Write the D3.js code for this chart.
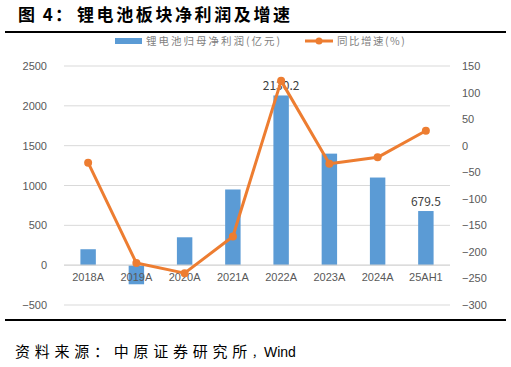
<!DOCTYPE html>
<html><head><meta charset="utf-8">
<script src="https://cdn.jsdelivr.net/npm/d3@7/dist/d3.min.js"></script>
<style>body{margin:0;background:#fff;}svg{display:block;}</style>
</head><body>
<svg id="c" width="511" height="367"></svg>
<script>
const categories = ["2018A","2019A","2020A","2021A","2022A","2023A","2024A","25AH1"];
const profit = [200, -240, 350, 950, 2130.2, 1400, 1100, 679.5];
const growth = [-32, -221, -240, -171, 122, -34, -22, 28];
const leftTicks = [-500, 0, 500, 1000, 1500, 2000, 2500];
const rightTicks = [-300, -250, -200, -150, -100, -50, 0, 50, 100, 150];
const labeled = {"2022A": "2130.2", "25AH1": "679.5"};

const svg = d3.select("#c");
const cjk = "'Noto Sans CJK SC', sans-serif";
const L = 64, R = 450, T = 66, B = 305;

const x = d3.scaleBand().domain(categories).range([L, R]).paddingInner(0.68).paddingOuter(0.34);
const xc = d3.scaleBand().domain(categories).range([L, R]);
const yL = d3.scaleLinear().domain([-500, 2500]).range([B, T]);
const yR = d3.scaleLinear().domain([-300, 150]).range([B, T]);

// title
const title = svg.append("text").attr("x", 18).attr("y", 21).attr("font-family", cjk).attr("font-weight", "bold")
  .attr("font-size", 17).attr("fill", "#000");
title.append("tspan").attr("letter-spacing", 2).text("图 4：");
title.append("tspan").attr("x", 77).attr("letter-spacing", 2.6).text("锂电池板块净利润及增速");
svg.append("line").attr("x1", 5).attr("x2", 506).attr("y1", 32).attr("y2", 32).attr("stroke", "#000").attr("stroke-width", 2);
svg.append("line").attr("x1", 5).attr("x2", 506).attr("y1", 320).attr("y2", 320).attr("stroke", "#000").attr("stroke-width", 2);

// legend
svg.append("rect").attr("x", 115).attr("y", 38).attr("width", 27).attr("height", 6).attr("fill", "#5B9BD5");
svg.append("text").attr("x", 146).attr("y", 45).attr("font-family", cjk).attr("font-size", 10.5).attr("letter-spacing", 2)
  .attr("fill", "#7f7f7f").text("锂电池归母净利润(亿元)");
svg.append("line").attr("x1", 305).attr("x2", 333).attr("y1", 41).attr("y2", 41).attr("stroke", "#ED7D31").attr("stroke-width", 3);
svg.append("circle").attr("cx", 319).attr("cy", 41).attr("r", 3.5).attr("fill", "#ED7D31");
svg.append("text").attr("x", 337).attr("y", 45).attr("font-family", cjk).attr("font-size", 10.5).attr("letter-spacing", 1.5)
  .attr("fill", "#7f7f7f").text("同比增速(%)");

// gridlines
svg.append("g").selectAll("line").data(leftTicks.filter(d => d !== 0)).join("line")
  .attr("x1", L).attr("x2", R).attr("y1", d => yL(d)).attr("y2", d => yL(d))
  .attr("stroke", "#d9d9d9").attr("stroke-width", 1);

// axes labels
const gl = svg.append("g").attr("transform", `translate(${L},0)`)
  .call(d3.axisLeft(yL).tickValues(leftTicks).tickSize(0).tickPadding(17).tickFormat(d => d < 0 ? "−" + Math.abs(d) : d));
gl.select(".domain").remove();
gl.selectAll("text").attr("font-family", "'Liberation Sans', Arial, sans-serif").attr("font-size", 11).attr("fill", "#595959");

const gr = svg.append("g").attr("transform", `translate(${R},0)`)
  .call(d3.axisRight(yR).tickValues(rightTicks).tickSize(0).tickPadding(12).tickFormat(d => d < 0 ? "−" + Math.abs(d) : d));
gr.select(".domain").remove();
gr.selectAll("text").attr("font-family", "'Liberation Sans', Arial, sans-serif").attr("font-size", 11).attr("fill", "#595959");

// bars
svg.append("g").selectAll("rect").data(categories).join("rect")
  .attr("x", d => x(d)).attr("width", x.bandwidth())
  .attr("y", (d, i) => Math.min(yL(profit[i]), yL(0)))
  .attr("height", (d, i) => Math.abs(yL(profit[i]) - yL(0)))
  .attr("fill", "#5B9BD5");

// zero axis line
svg.append("line").attr("x1", L).attr("x2", R).attr("y1", yL(0)).attr("y2", yL(0)).attr("stroke", "#d0d0d0").attr("stroke-width", 1.2);

// x labels
const gx = svg.append("g").attr("transform", `translate(0,${yL(0)})`)
  .call(d3.axisBottom(xc).tickSize(0).tickPadding(8));
gx.select(".domain").remove();
gx.selectAll("text").attr("font-family", "'Liberation Sans', Arial, sans-serif").attr("font-size", 11).attr("fill", "#595959");

// bar labels
svg.append("g").selectAll("text").data(categories.filter(c => labeled[c])).join("text")
  .attr("x", d => xc(d) + xc.bandwidth() / 2)
  .attr("y", d => yL(profit[categories.indexOf(d)]) - 5)
  .attr("text-anchor", "middle").attr("font-family", cjk).attr("font-size", 12).attr("fill", "#404040")
  .text(d => labeled[d]);

// line
const line = d3.line().x((d, i) => xc(categories[i]) + xc.bandwidth() / 2).y(d => yR(d));
svg.append("path").datum(growth).attr("d", line).attr("fill", "none")
  .attr("stroke", "#ED7D31").attr("stroke-width", 3).attr("stroke-linejoin", "round");
svg.append("g").selectAll("circle").data(growth).join("circle")
  .attr("cx", (d, i) => xc(categories[i]) + xc.bandwidth() / 2).attr("cy", d => yR(d))
  .attr("r", 4).attr("fill", "#ED7D31");

// source
const src = svg.append("text").attr("x", 15).attr("y", 357).attr("font-family", cjk).attr("font-size", 15).attr("fill", "#000");
src.append("tspan").attr("letter-spacing", 4.75).text("资料来源：中原证券研究所");
src.append("tspan").attr("x", 252).attr("font-size", 11).text("，");
src.append("tspan").attr("x", 264).attr("font-family", "'Liberation Sans', Arial, sans-serif").attr("font-size", 14).text("Wind");
</script>
</body></html>
